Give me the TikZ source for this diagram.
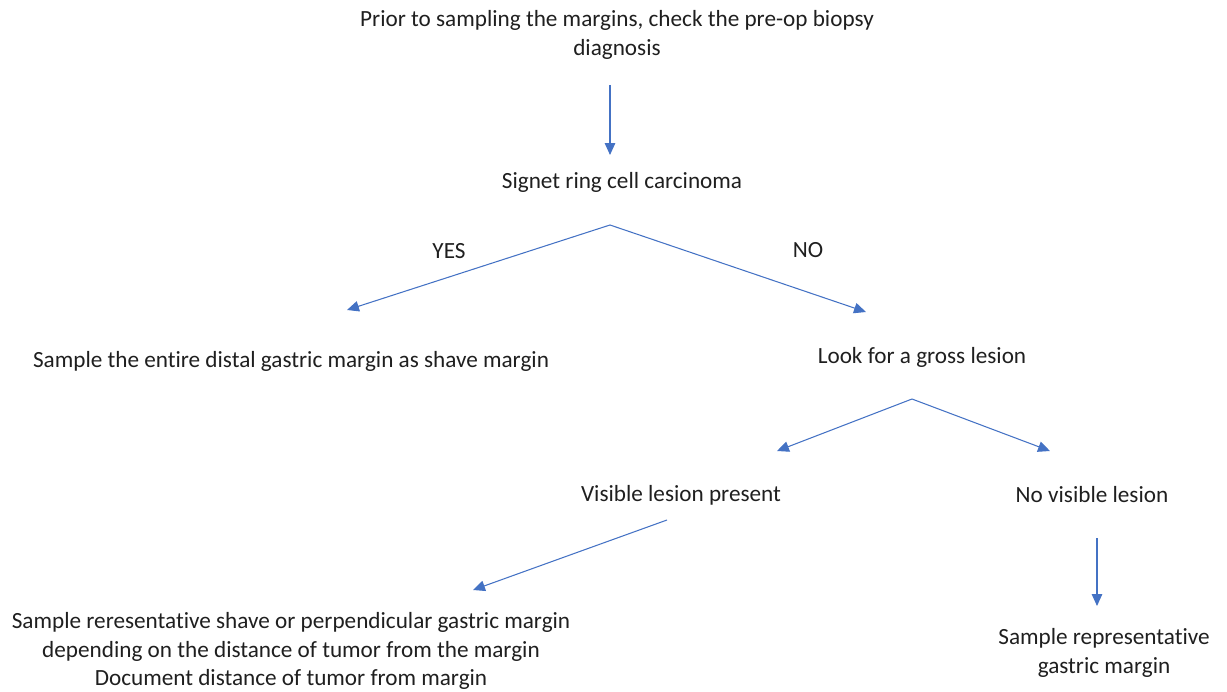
\documentclass[tikz,border=0pt]{standalone}
\usepackage{fontspec}
\setmainfont[Ligatures={NoCommon}]{Carlito}
\usepackage{xcolor}
\usepackage{tikz}
\usetikzlibrary{positioning, arrows.meta}

\definecolor{arrowblue}{HTML}{4472C4}
\definecolor{textgray}{HTML}{1F1F1F}

\begin{document}
\begin{tikzpicture}[x=0.02cm, y=-0.02cm,
    txt/.style={align=center, text=textgray, font=\fontsize{13.2}{16.3}\selectfont, inner sep=0pt},
    flow/.style={draw=arrowblue, line width=0.6pt, -{Triangle[length=6.8pt, width=6pt]}}]
      \useasboundingbox (0,0) rectangle (1227,692);

      % text nodes
      \node[txt] (prior) at (617,35) {Prior to sampling the margins, check the pre-op biopsy\\diagnosis};
      \node[txt] (signet) at (622,182) {Signet ring cell carcinoma};
      \node[txt] (yes) at (449,251) {YES};
      \node[txt] (no) at (808,250) {NO};
      \node[txt] (entire) at (291,361) {Sample the entire distal gastric margin as shave margin};
      \node[txt] (gross) at (922,357) {Look for a gross lesion};
      \node[txt] (visible) at (681,495) {Visible lesion present};
      \node[txt] (novis) at (1092,495) {No visible lesion};
      \node[txt] (shave) at (291,651) {Sample reresentative shave or perpendicular gastric margin\\depending on the distance of tumor from the margin\\Document distance of tumor from margin};
      \node[txt] (repr) at (1104,653) {Sample representative\\gastric margin};

      % arrow ends
      \coordinate (a1) at (610,85);
      \coordinate (a2) at (610,155);
      \coordinate (fork1) at (610,225);
      \coordinate (yesend) at (347,310);
      \coordinate (noend) at (866,312);
      \coordinate (fork2) at (912,399);
      \coordinate (visend) at (777,451);
      \coordinate (novisend) at (1050,451);
      \coordinate (b1) at (667,520);
      \coordinate (b2) at (473,590);
      \coordinate (c1) at (1097,538);
      \coordinate (c2) at (1097,606);

      % connectors
      \draw[flow] (a1) -- (a2);
      \draw[flow] (fork1) -- (yesend);
      \draw[flow] (fork1) -- (noend);
      \draw[flow] (fork2) -- (visend);
      \draw[flow] (fork2) -- (novisend);
      \draw[flow] (b1) -- (b2);
      \draw[flow] (c1) -- (c2);
\end{tikzpicture}
\end{document}
